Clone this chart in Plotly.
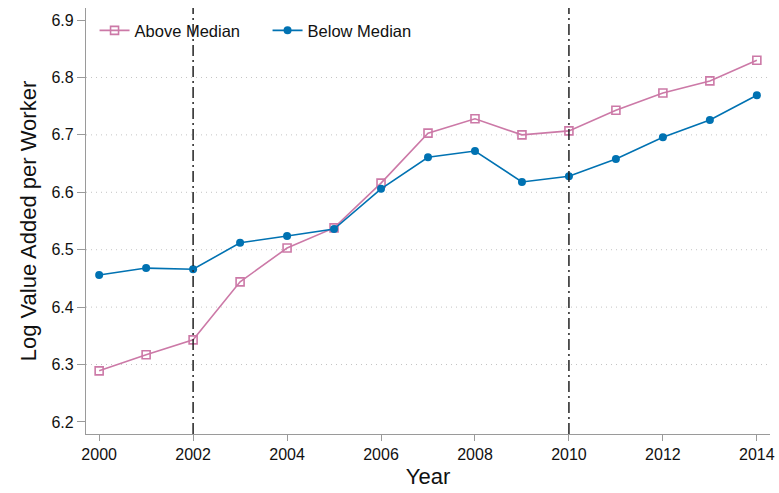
import plotly.graph_objects as go

years = list(range(2000, 2015))
above_median = [6.289, 6.317, 6.343, 6.444, 6.503, 6.538, 6.616, 6.703, 6.728, 6.700,
                6.707, 6.743, 6.773, 6.794, 6.830]
below_median = [6.456, 6.468, 6.466, 6.512, 6.524, 6.536, 6.606, 6.661, 6.672, 6.618,
                6.628, 6.658, 6.696, 6.726, 6.769]
x_ticks = list(range(2000, 2015, 2))
y_ticks = [6.2, 6.3, 6.4, 6.5, 6.6, 6.7, 6.8, 6.9]
grid_vals = [6.3, 6.4, 6.5, 6.6, 6.7, 6.8]
event_years = [2002, 2010]

PINK = "#CC79A7"
BLUE = "#0072B2"
FONT = "Liberation Sans, Arial, sans-serif"

fig = go.Figure()

for gv in grid_vals:
    fig.add_hline(y=gv, line=dict(color="#c4c4c4", width=1, dash="1px,4px"), layer="below")

for ev in event_years:
    fig.add_vline(x=ev, line=dict(color="#222222", width=1.5, dash="11px,4px,2px,4px"))

fig.add_trace(go.Scatter(
    x=years, y=above_median, name="Above Median", mode="lines+markers",
    line=dict(color=PINK, width=1.6),
    marker=dict(symbol="square-open", size=8, color=PINK, line=dict(width=1.6, color=PINK)),
))
fig.add_trace(go.Scatter(
    x=years, y=below_median, name="Below Median", mode="lines+markers",
    line=dict(color=BLUE, width=1.6),
    marker=dict(symbol="circle", size=8, color=BLUE),
))

fig.update_layout(
    width=779, height=493,
    margin=dict(l=86, r=9, t=8, b=59),
    paper_bgcolor="white", plot_bgcolor="white",
    font=dict(family=FONT, size=16, color="#111111"),
    showlegend=True,
    legend=dict(orientation="h", x=0.0125, y=0.988, xanchor="left", yanchor="top",
                font=dict(size=16.5, family=FONT, color="#111111"),
                bgcolor="rgba(0,0,0,0)", entrywidth=128, entrywidthmode="pixels"),
    xaxis=dict(range=[1999.72, 2014.28], tickvals=x_ticks, showgrid=False, zeroline=False,
               automargin=False,
               showline=True, linecolor="#9a9a9a", linewidth=1.2,
               ticks="outside", ticklen=6, tickcolor="#9a9a9a",
               tickfont=dict(size=16, family=FONT),
               title=dict(text="Year", font=dict(size=22, family=FONT), standoff=6)),
    yaxis=dict(range=[6.179, 6.921], tickvals=y_ticks, ticktext=[f"{v:.1f}" for v in y_ticks],
               showgrid=False, zeroline=False, automargin=False,
               showline=True, linecolor="#9a9a9a", linewidth=1.2,
               ticks="outside", ticklen=8, tickcolor="#9a9a9a",
               tickfont=dict(size=16, family=FONT),
               title=dict(text="Log Value Added per Worker", font=dict(size=22, family=FONT), standoff=8)),
)

fig.write_html("out.html", config={"displayModeBar": False},
               post_script="document.body.style.margin='0';")
